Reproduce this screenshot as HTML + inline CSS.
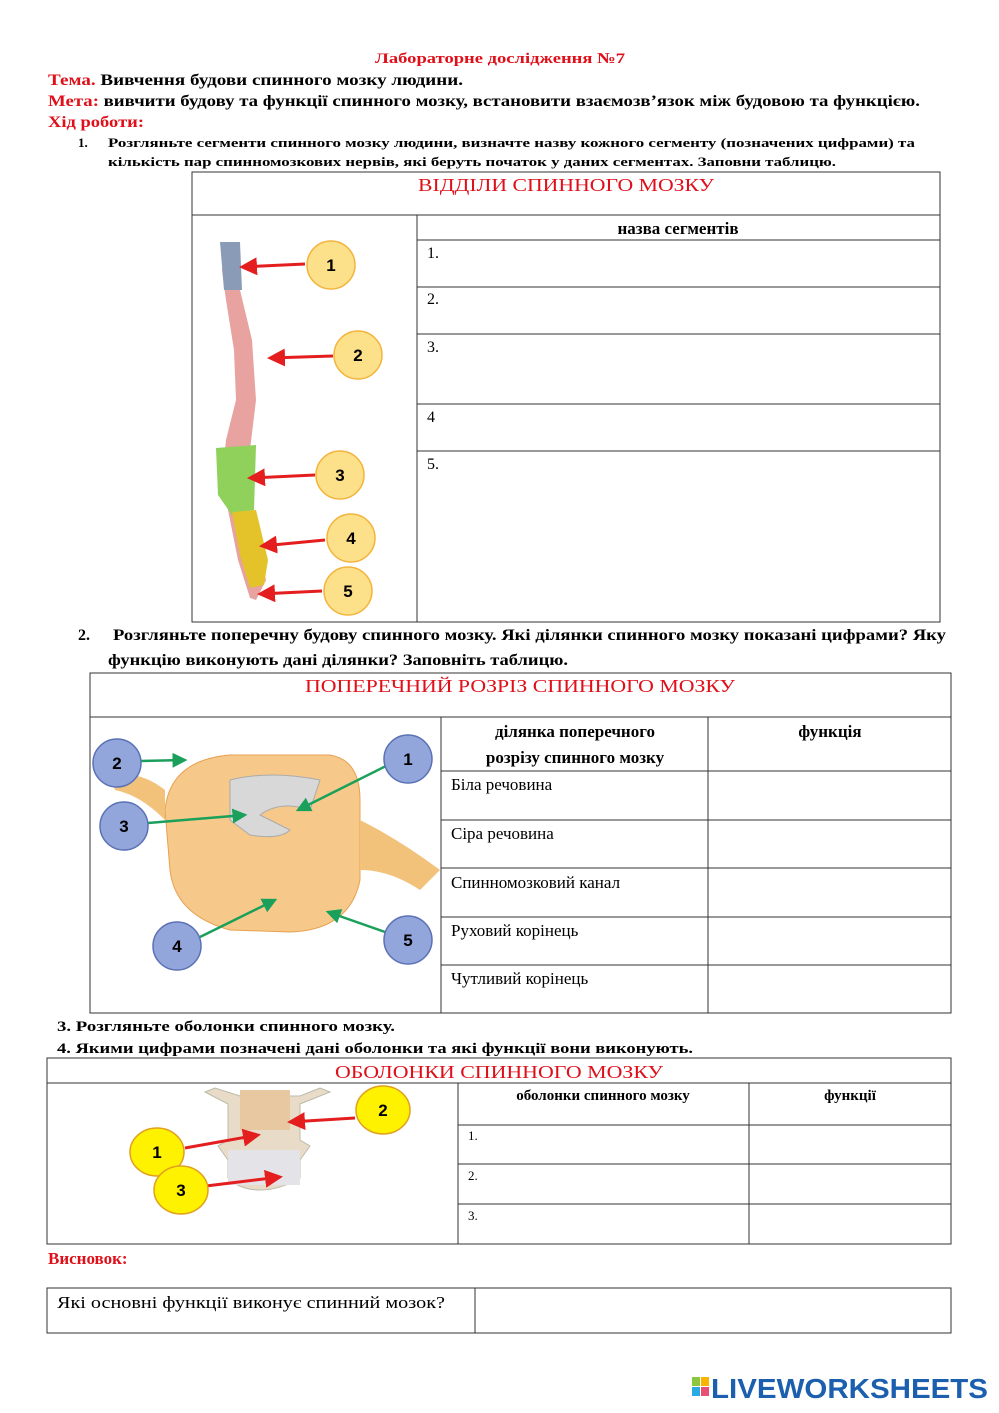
<!DOCTYPE html>
<html><head><meta charset="utf-8"><style>
html,body{margin:0;padding:0;background:#fff}
svg{display:block}
text{font-family:"Liberation Serif","Noto Serif CJK SC",serif}
.b{font-weight:bold}
.r{fill:#e0101a}
.n text{font-family:"Liberation Sans",sans-serif;font-weight:bold;font-size:17px}
text.logo{font-family:"Liberation Sans",sans-serif;font-weight:bold}
</style></head><body>
<svg width="999" height="1413" viewBox="0 0 999 1413" xmlns="http://www.w3.org/2000/svg">
<defs>
<marker id="ar" markerWidth="6" markerHeight="6" refX="5" refY="3" orient="auto"><path d="M0,0 L6,3 L0,6 z" fill="#e41e1e"/></marker>
<marker id="ag" markerWidth="6" markerHeight="6" refX="5" refY="3" orient="auto"><path d="M0,0 L6,3 L0,6 z" fill="#1aa05a"/></marker>
</defs>
<text x="500" y="63" text-anchor="middle" class="b r" font-size="15" textLength="250" lengthAdjust="spacingAndGlyphs">Лабораторне дослідження №7</text>
<text x="48" y="85" class="b" font-size="16" textLength="415" lengthAdjust="spacingAndGlyphs"><tspan class="r">Тема.</tspan> Вивчення будови спинного мозку людини.</text>
<text x="48" y="106" class="b" font-size="16" textLength="872" lengthAdjust="spacingAndGlyphs"><tspan class="r">Мета:</tspan> вивчити будову  та функції спинного мозку, встановити взаємозв’язок між будовою та функцією.</text>
<text x="48" y="127" class="b r" font-size="16" textLength="96" lengthAdjust="spacingAndGlyphs">Хід роботи:</text>
<text x="78" y="147" class="b" font-size="13">1.</text>
<text x="108" y="147" class="b" font-size="13" textLength="807" lengthAdjust="spacingAndGlyphs">Розгляньте сегменти спинного мозку людини, визначте назву кожного сегменту (позначених цифрами) та</text>
<text x="108" y="166" class="b" font-size="13" textLength="728" lengthAdjust="spacingAndGlyphs">кількість пар спинномозкових нервів, які беруть початок у даних сегментах. Заповни таблицю.</text>
<g stroke="#333" stroke-width="1" fill="none">
<rect x="192" y="172" width="748" height="450"/>
<line x1="192" y1="215" x2="940" y2="215"/>
<line x1="417" y1="215" x2="417" y2="622"/>
<line x1="417" y1="240" x2="940" y2="240"/>
<line x1="417" y1="287" x2="940" y2="287"/>
<line x1="417" y1="334" x2="940" y2="334"/>
<line x1="417" y1="404" x2="940" y2="404"/>
<line x1="417" y1="451" x2="940" y2="451"/>
</g>
<text x="566" y="191" text-anchor="middle" class="r" font-size="18" textLength="296" lengthAdjust="spacingAndGlyphs">ВІДДІЛИ СПИННОГО МОЗКУ</text>
<text x="678" y="234" text-anchor="middle" class="b" font-size="17">назва сегментів</text>
<g font-size="16"><text x="427" y="258">1.</text><text x="427" y="304">2.</text><text x="427" y="352">3.</text><text x="427" y="422">4</text><text x="427" y="469">5.</text></g>
<path d="M226,245 L236,245 L240,290 L252,340 L256,400 L250,450 L246,500 L256,540 L266,580 L256,600 L250,598 L238,560 L230,520 L222,480 L226,440 L236,400 L234,350 L226,300 L222,270 Z" fill="#e8a2a0"/>
<path d="M220,242 L240,242 L242,290 L224,290 Z" fill="#8a9bb8"/>
<path d="M216,448 L256,445 L254,510 L232,515 L218,495 Z" fill="#8fd15a"/>
<path d="M232,512 L256,510 L268,560 L264,585 L250,588 L240,555 Z" fill="#e3c22a"/>
<g stroke="#e41e1e" stroke-width="3" marker-end="url(#ar)">
<line x1="305" y1="264" x2="242" y2="267"/><line x1="333" y1="356" x2="270" y2="358"/>
<line x1="315" y1="475" x2="250" y2="478"/><line x1="325" y1="540" x2="262" y2="546"/>
<line x1="322" y1="591" x2="260" y2="594"/>
</g>
<g fill="#fde08a" stroke="#f3b43c" stroke-width="1.5">
<circle cx="331" cy="265" r="24"/><circle cx="358" cy="355" r="24"/><circle cx="340" cy="475" r="24"/><circle cx="351" cy="538" r="24"/><circle cx="348" cy="591" r="24"/>
</g>
<g class="n" text-anchor="middle"><text x="331" y="271">1</text><text x="358" y="361">2</text><text x="340" y="481">3</text><text x="351" y="544">4</text><text x="348" y="597">5</text></g>
<text x="78" y="640" class="b" font-size="16">2.</text>
<text x="113" y="640" class="b" font-size="16" textLength="833" lengthAdjust="spacingAndGlyphs">Розгляньте поперечну будову спинного мозку. Які ділянки спинного мозку показані цифрами? Яку</text>
<text x="108" y="665" class="b" font-size="16" textLength="460" lengthAdjust="spacingAndGlyphs">функцію виконують дані ділянки? Заповніть таблицю.</text>
<g stroke="#333" stroke-width="1" fill="none">
<rect x="90" y="673" width="861" height="340"/>
<line x1="90" y1="717" x2="951" y2="717"/>
<line x1="441" y1="717" x2="441" y2="1013"/>
<line x1="708" y1="717" x2="708" y2="1013"/>
<line x1="441" y1="771" x2="951" y2="771"/>
<line x1="441" y1="820" x2="951" y2="820"/>
<line x1="441" y1="868" x2="951" y2="868"/>
<line x1="441" y1="917" x2="951" y2="917"/>
<line x1="441" y1="965" x2="951" y2="965"/>
</g>
<text x="520" y="692" text-anchor="middle" class="r" font-size="18" textLength="430" lengthAdjust="spacingAndGlyphs">ПОПЕРЕЧНИЙ РОЗРІЗ СПИННОГО МОЗКУ</text>
<text x="575" y="737" text-anchor="middle" class="b" font-size="17">ділянка поперечного</text>
<text x="575" y="763" text-anchor="middle" class="b" font-size="17">розрізу спинного мозку</text>
<text x="830" y="737" text-anchor="middle" class="b" font-size="17">функція</text>
<g font-size="17"><text x="451" y="790">Біла речовина</text><text x="451" y="839">Сіра речовина</text><text x="451" y="888">Спинномозковий канал</text><text x="451" y="936">Руховий корінець</text><text x="451" y="984">Чутливий корінець</text></g>
<path d="M165,810 Q170,760 230,755 L330,755 Q360,760 360,800 L360,880 Q350,930 290,932 L230,930 Q175,915 170,870 Z" fill="#f6c98a" stroke="#e8a050"/>
<path d="M360,820 Q400,840 440,870 L420,890 Q390,870 360,870 Z" fill="#f3c27a"/>
<path d="M165,790 Q140,770 110,775 L115,790 Q140,795 165,820 Z" fill="#f3c27a"/>
<path d="M230,780 Q270,770 320,780 L310,810 Q280,800 260,815 L290,830 Q280,840 250,835 L230,820 Z" fill="#d8d8d8" stroke="#aaa"/>
<g stroke="#1aa05a" stroke-width="2.5" marker-end="url(#ag)">
<line x1="140" y1="761" x2="185" y2="760"/><line x1="388" y1="765" x2="298" y2="810"/>
<line x1="148" y1="823" x2="245" y2="815"/><line x1="200" y1="937" x2="275" y2="900"/>
<line x1="385" y1="932" x2="328" y2="912"/>
</g>
<g fill="#92a6dc" stroke="#5b71b5" stroke-width="1.5">
<circle cx="117" cy="763" r="24"/><circle cx="408" cy="759" r="24"/><circle cx="124" cy="826" r="24"/><circle cx="177" cy="946" r="24"/><circle cx="408" cy="940" r="24"/>
</g>
<g class="n" text-anchor="middle"><text x="117" y="769">2</text><text x="408" y="765">1</text><text x="124" y="832">3</text><text x="177" y="952">4</text><text x="408" y="946">5</text></g>
<text x="57" y="1031" class="b" font-size="15" textLength="338" lengthAdjust="spacingAndGlyphs">3. Розгляньте оболонки спинного мозку.</text>
<text x="57" y="1053" class="b" font-size="15" textLength="636" lengthAdjust="spacingAndGlyphs">4. Якими цифрами позначені дані оболонки та які функції вони виконують.</text>
<g stroke="#333" stroke-width="1" fill="none">
<rect x="47" y="1058" width="904" height="186"/>
<line x1="47" y1="1083" x2="951" y2="1083"/>
<line x1="458" y1="1083" x2="458" y2="1244"/>
<line x1="749" y1="1083" x2="749" y2="1244"/>
<line x1="458" y1="1125" x2="951" y2="1125"/>
<line x1="458" y1="1164" x2="951" y2="1164"/>
<line x1="458" y1="1204" x2="951" y2="1204"/>
</g>
<text x="499" y="1078" text-anchor="middle" class="r" font-size="18" textLength="328" lengthAdjust="spacingAndGlyphs">ОБОЛОНКИ СПИННОГО МОЗКУ</text>
<text x="603" y="1100" text-anchor="middle" class="b" font-size="15">оболонки спинного мозку</text>
<text x="850" y="1100" text-anchor="middle" class="b" font-size="15">функції</text>
<g font-size="13"><text x="468" y="1140">1.</text><text x="468" y="1180">2.</text><text x="468" y="1220">3.</text></g>
<path d="M205,1092 L215,1088 L240,1096 L300,1096 L320,1088 L330,1092 L300,1104 L300,1140 L310,1146 L300,1160 L300,1178 Q280,1190 260,1190 Q240,1190 228,1178 L228,1160 L218,1146 L228,1140 L228,1104 Z" fill="#e8dcc8" stroke="#bba"/>
<rect x="228" y="1150" width="72" height="35" fill="#e4e4e8"/>
<rect x="240" y="1090" width="50" height="40" fill="#e7c8a0"/>
<g stroke="#e41e1e" stroke-width="3" marker-end="url(#ar)">
<line x1="185" y1="1148" x2="258" y2="1135"/><line x1="355" y1="1118" x2="290" y2="1122"/>
<line x1="206" y1="1186" x2="280" y2="1177"/>
</g>
<g fill="#fff200" stroke="#e0a020" stroke-width="1.5">
<ellipse cx="157" cy="1152" rx="27" ry="24"/><ellipse cx="383" cy="1110" rx="27" ry="24"/><ellipse cx="181" cy="1190" rx="27" ry="24"/>
</g>
<g class="n" text-anchor="middle"><text x="157" y="1158">1</text><text x="383" y="1116">2</text><text x="181" y="1196">3</text></g>
<text x="48" y="1264" class="b r" font-size="17">Висновок:</text>
<g stroke="#333" stroke-width="1" fill="none">
<rect x="47" y="1288" width="904" height="45"/>
<line x1="475" y1="1288" x2="475" y2="1333"/>
</g>
<text x="57" y="1308" font-size="17" textLength="388" lengthAdjust="spacingAndGlyphs">Які основні функції виконує спинний мозок?</text>
<rect x="692" y="1377" width="8" height="9" fill="#8cc63f"/><rect x="701" y="1377" width="8" height="9" fill="#f7b500"/>
<rect x="692" y="1387" width="8" height="9" fill="#29abe2"/><rect x="701" y="1387" width="8" height="9" fill="#e94e77"/>
<text x="711" y="1398" class="logo" font-size="28" fill="#1b5fae" textLength="277" lengthAdjust="spacingAndGlyphs">LIVEWORKSHEETS</text>
</svg>
</body></html>
